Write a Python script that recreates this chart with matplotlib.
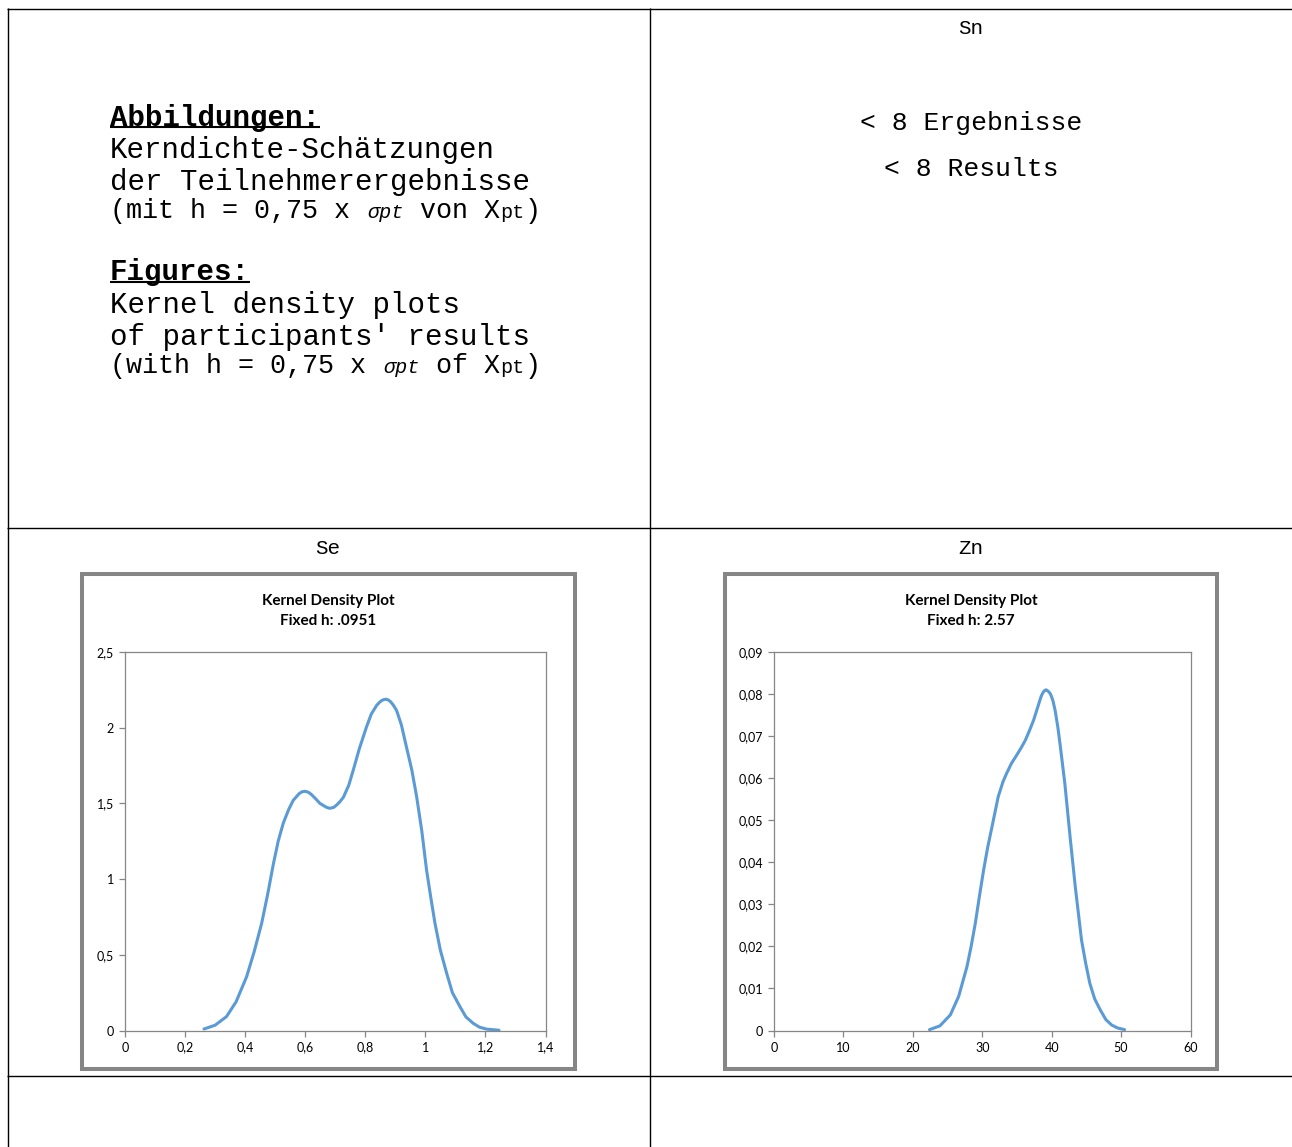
import matplotlib
matplotlib.use("Agg")
import matplotlib.pyplot as plt
from matplotlib.lines import Line2D
from matplotlib.patches import Rectangle
from matplotlib.ticker import FixedLocator, FixedFormatter

W, H, DPI = 1292, 1147, 100

# --- data -------------------------------------------------------------
se_x = [0.263, 0.30, 0.338, 0.37, 0.405, 0.43, 0.455, 0.475, 0.494, 0.51,
        0.527, 0.545, 0.560, 0.58, 0.59, 0.599, 0.61, 0.62, 0.635, 0.649,
        0.67, 0.68, 0.688, 0.695, 0.705, 0.715, 0.727, 0.745, 0.760, 0.78,
        0.804, 0.82, 0.838, 0.847, 0.855, 0.862, 0.869, 0.877, 0.885, 0.894,
        0.904, 0.92, 0.937, 0.955, 0.971, 0.988, 1.004, 1.018, 1.032, 1.05,
        1.071, 1.09, 1.115, 1.135, 1.159, 1.18, 1.204, 1.245]
se_y = [0.01, 0.035, 0.092, 0.19, 0.356, 0.52, 0.708, 0.90, 1.10, 1.25,
        1.37, 1.46, 1.52, 1.565, 1.577, 1.58, 1.574, 1.56, 1.53, 1.50,
        1.475, 1.468, 1.47, 1.474, 1.49, 1.51, 1.54, 1.62, 1.72, 1.86,
        2.005, 2.09, 2.148, 2.167, 2.18, 2.186, 2.188, 2.183, 2.17, 2.147,
        2.115, 2.02, 1.873, 1.72, 1.544, 1.32, 1.06, 0.88, 0.708, 0.53,
        0.378, 0.25, 0.158, 0.09, 0.048, 0.022, 0.009, 0.002]

zn_x = [22.4, 23.9, 25.4, 26.6, 27.8, 28.4, 29.0, 29.6, 30.2, 30.8,
        31.4, 32.3, 33.0, 33.5, 34.2, 34.97, 35.6, 36.2, 36.8, 37.4,
        38.3, 38.5, 38.7, 38.9, 39.05, 39.2, 39.4, 39.6, 39.8, 40.0,
        40.2, 40.5, 40.9, 41.2, 41.9, 42.65, 43.4, 44.3, 44.9, 45.5,
        46.2, 47.0, 47.8, 48.65, 49.5, 50.5]
zn_y = [0.0002, 0.0011, 0.0037, 0.0081, 0.0152, 0.020, 0.0255, 0.032, 0.0382, 0.0437,
        0.0484, 0.0556, 0.0592, 0.0611, 0.0635, 0.0655, 0.0672, 0.069, 0.0713, 0.0738,
        0.0785, 0.0795, 0.0802, 0.0807, 0.0809, 0.0810, 0.0808, 0.0805, 0.0801, 0.0793,
        0.0783, 0.0761, 0.072, 0.0682, 0.0587, 0.0461, 0.0342, 0.0215, 0.016, 0.0112,
        0.0075, 0.0049, 0.0026, 0.0013, 0.0006, 0.0002]

se_xticks = [0, 0.2, 0.4, 0.6, 0.8, 1.0, 1.2, 1.4]
se_xlabels = ["0", "0,2", "0,4", "0,6", "0,8", "1", "1,2", "1,4"]
se_yticks = [0, 0.5, 1.0, 1.5, 2.0, 2.5]
se_ylabels = ["0", "0,5", "1", "1,5", "2", "2,5"]

zn_xticks = [0, 10, 20, 30, 40, 50, 60]
zn_xlabels = ["0", "10", "20", "30", "40", "50", "60"]
zn_yticks = [0, 0.01, 0.02, 0.03, 0.04, 0.05, 0.06, 0.07, 0.08, 0.09]
zn_ylabels = ["0", "0,01", "0,02", "0,03", "0,04", "0,05", "0,06", "0,07", "0,08", "0,09"]

se_title = ["Kernel Density Plot", "Fixed h: .0951"]
zn_title = ["Kernel Density Plot", "Fixed h: 2.57"]

# --- figure -----------------------------------------------------------
fig = plt.figure(figsize=(W / DPI, H / DPI), dpi=DPI)
fig.patch.set_facecolor("white")

MONO = "Liberation Mono"
SANS = "Lato"
GRAY = "#868686"
BLUE = "#5B9BD5"


def fx(x):
    return x / W


def fy(y):
    return 1 - y / H


def hline(y, x0, x1, lw=1.0, color="black"):
    fig.add_artist(Line2D([fx(x0), fx(x1)], [fy(y), fy(y)], lw=lw, color=color,
                          transform=fig.transFigure, solid_capstyle="butt"))


def vline(x, y0, y1, lw=1.0, color="black"):
    fig.add_artist(Line2D([fx(x), fx(x)], [fy(y0), fy(y1)], lw=lw, color=color,
                          transform=fig.transFigure, solid_capstyle="butt"))


def text(x, y, s, **kw):
    fig.text(fx(x), fy(y), s, **kw)


# table grid
hline(8.5, 7, W)
hline(528.5, 7, W)
hline(1075.5, 7, W)
vline(7.5, 8, H)
vline(649.5, 8, H)

# --- intro cell -------------------------------------------------------
FS = 21
CW = FS / 72 * DPI * 0.6  # monospace advance in px
x0 = 110
text(x0, 118, "Abbildungen:", fontsize=FS, family=MONO, weight="bold", va="center")
hline(127, x0, x0 + 12 * CW, lw=1.5)
text(x0, 150, "Kerndichte-Schätzungen", fontsize=FS, family=MONO, va="center")
text(x0, 182, "der Teilnehmerergebnisse", fontsize=FS, family=MONO, va="center")

text(x0, 272, "Figures:", fontsize=FS, family=MONO, weight="bold", va="center")
hline(282, x0, x0 + 8 * CW, lw=1.5)
text(x0, 305, "Kernel density plots", fontsize=FS, family=MONO, va="center")
text(x0, 337, "of participants' results", fontsize=FS, family=MONO, va="center")

MF = 19.3
MCW = MF / 72 * DPI * 0.6
SF = 14.5
SCW = SF / 72 * DPI * 0.6


def formula_line(y, pre, mid):
    x = x0
    text(x, y, pre, fontsize=MF, family=MONO, va="baseline")
    x += len(pre) * MCW
    text(x, y, "σpt", fontsize=SF, family=MONO, style="italic", va="baseline")
    x += 3 * SCW
    text(x, y, mid, fontsize=MF, family=MONO, va="baseline")
    x += len(mid) * MCW
    text(x, y, "pt", fontsize=SF, family=MONO, va="baseline")
    x += 2 * SCW
    text(x, y, ")", fontsize=MF, family=MONO, va="baseline")


formula_line(218, "(mit h = 0,75 x ", " von X")
formula_line(373, "(with h = 0,75 x ", " of X")

# --- Sn cell ----------------------------------------------------------
text(971, 29, "Sn", fontsize=15, family=MONO, ha="center", va="center")
text(971, 123, "< 8 Ergebnisse", fontsize=19, family=MONO, ha="center", va="center")
text(971, 169, "< 8 Results", fontsize=19, family=MONO, ha="center", va="center")

# --- chart cells -----------------------------------------------------
text(328, 549, "Se", fontsize=15, family=MONO, ha="center", va="center")
text(971, 549, "Zn", fontsize=15, family=MONO, ha="center", va="center")


def chart(frame, plot, title, xs, ys, xt, xl, yt, yl, xlim, ylim):
    fl, ft, fr, fb = frame
    fig.add_artist(Rectangle((fx(fl), fy(fb)), fx(fr) - fx(fl), fy(ft) - fy(fb),
                             transform=fig.transFigure, fill=False,
                             edgecolor=GRAY, lw=2.9))
    cx = (fl + fr) / 2
    text(cx, 601, title[0], fontsize=11, family=SANS, weight="bold",
         ha="center", va="center")
    text(cx, 621, title[1], fontsize=11, family=SANS, weight="bold",
         ha="center", va="center")
    pl, pt, pr, pb = plot
    ax = fig.add_axes([fx(pl), fy(pb), fx(pr) - fx(pl), fy(pt) - fy(pb)])
    ax.plot(xs, ys, color=BLUE, lw=2.2, solid_joinstyle="round", solid_capstyle="round")
    ax.set_xlim(*xlim)
    ax.set_ylim(*ylim)
    ax.xaxis.set_major_locator(FixedLocator(xt))
    ax.xaxis.set_major_formatter(FixedFormatter(xl))
    ax.yaxis.set_major_locator(FixedLocator(yt))
    ax.yaxis.set_major_formatter(FixedFormatter(yl))
    for s in ax.spines.values():
        s.set_color(GRAY)
        s.set_linewidth(0.9)
    ax.tick_params(direction="out", length=4, width=0.9, color=GRAY,
                   labelsize=9, labelcolor="black", pad=4)
    for lab in ax.get_xticklabels() + ax.get_yticklabels():
        lab.set_family(SANS)
    return ax


chart((82, 574, 575, 1069), (125, 652, 545.5, 1030.5), se_title,
      se_x, se_y, se_xticks, se_xlabels, se_yticks, se_ylabels, (0, 1.4), (0, 2.5))
chart((725, 574, 1217, 1069), (774, 652, 1190.5, 1030.5), zn_title,
      zn_x, zn_y, zn_xticks, zn_xlabels, zn_yticks, zn_ylabels, (0, 60), (0, 0.09))

fig.savefig("out.png", dpi=DPI)
